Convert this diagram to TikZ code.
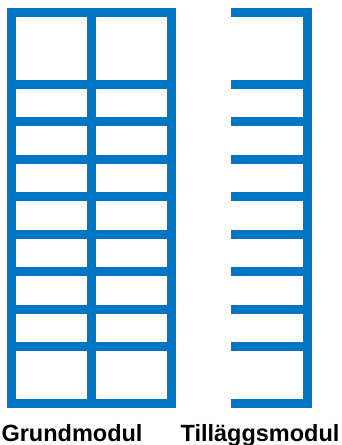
\documentclass[tikz,border=0pt]{standalone}
\usepackage{fontspec}
\setmainfont{Liberation Sans}
\definecolor{modblue}{HTML}{0075C4}
\begin{document}
\begin{tikzpicture}[x=1pt,y=-1pt,
  bar/.style={draw=modblue,line width=9pt,line join=miter,line cap=butt},
  label/.style={font=\fontsize{23.5}{26}\selectfont\bfseries,anchor=base,inner sep=0pt}]
\useasboundingbox (0,0) rectangle (342,445);
% Grundmodul
\draw[bar] (11,12) rectangle (171,403);
\draw[bar] (91,12) -- (91,403);
\foreach \y in {84,121.5,159,196.5,234,271.5,309,346.5}
  \draw[bar] (11,\y) -- (171,\y);
% Tillaggsmodul
\draw[bar] (231,12) -- (307.5,12) -- (307.5,403) -- (231,403);
\foreach \y in {84,121.5,159,196.5,234,271.5,309,346.5}
  \draw[bar] (231,\y) -- (307.5,\y);
\node[label] (g) at (72,441) {Grundmodul};
\node[label] (t) at (260,441) {Tilläggsmodul};
\end{tikzpicture}
\end{document}
